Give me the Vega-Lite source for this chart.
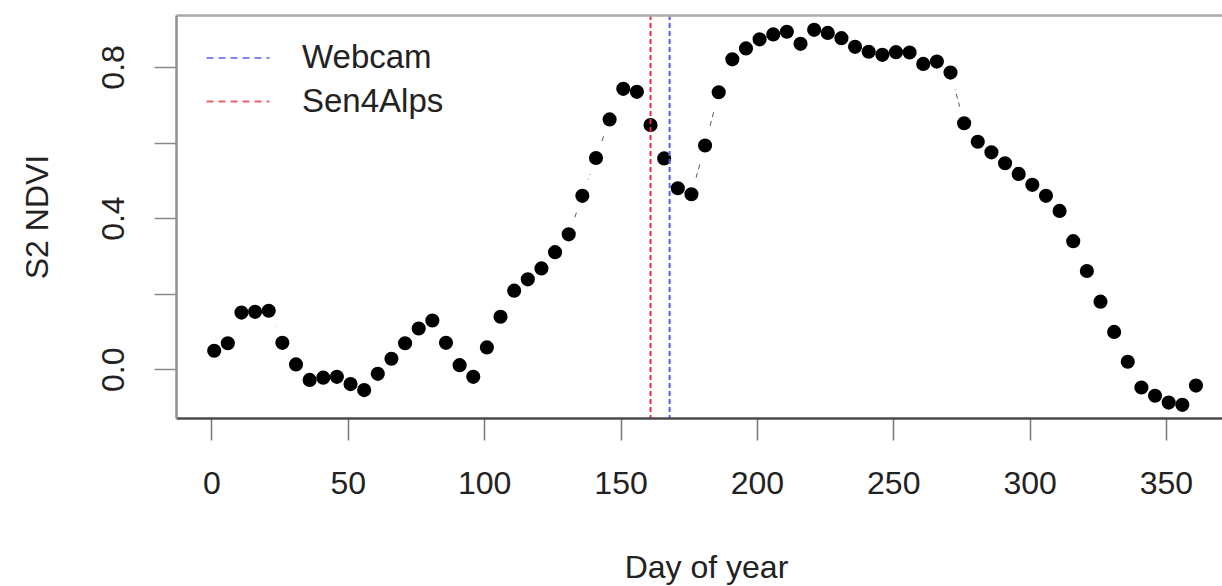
{
  "$schema": "https://vega.github.io/schema/vega-lite/v6.json",
  "width": 1046,
  "height": 403,
  "autosize": {"type": "none"},
  "padding": {"left": 176, "top": 15, "right": 0, "bottom": 168},
  "background": "white",
  "config": {
    "font": "Liberation Sans",
    "view": {"stroke": null},
    "axis": {"grid": false, "labelFont": "Liberation Sans", "titleFont": "Liberation Sans", "labelColor": "#222", "titleColor": "#222", "titleFontWeight": "normal"}
  },
  "datasets": {
    "ndvi": [
      {"day": 1, "ndvi": 0.049}, {"day": 6, "ndvi": 0.069}, {"day": 11, "ndvi": 0.150}, {"day": 16, "ndvi": 0.152},
      {"day": 21, "ndvi": 0.155}, {"day": 26, "ndvi": 0.070}, {"day": 31, "ndvi": 0.013}, {"day": 36, "ndvi": -0.028},
      {"day": 41, "ndvi": -0.022}, {"day": 46, "ndvi": -0.020}, {"day": 51, "ndvi": -0.039}, {"day": 56, "ndvi": -0.055},
      {"day": 61, "ndvi": -0.012}, {"day": 66, "ndvi": 0.028}, {"day": 71, "ndvi": 0.069}, {"day": 76, "ndvi": 0.108},
      {"day": 81, "ndvi": 0.129}, {"day": 86, "ndvi": 0.070}, {"day": 91, "ndvi": 0.011}, {"day": 96, "ndvi": -0.020},
      {"day": 101, "ndvi": 0.058}, {"day": 106, "ndvi": 0.139}, {"day": 111, "ndvi": 0.208}, {"day": 116, "ndvi": 0.238},
      {"day": 121, "ndvi": 0.267}, {"day": 126, "ndvi": 0.310}, {"day": 131, "ndvi": 0.357}, {"day": 136, "ndvi": 0.459},
      {"day": 141, "ndvi": 0.559}, {"day": 146, "ndvi": 0.661}, {"day": 151, "ndvi": 0.742}, {"day": 156, "ndvi": 0.734},
      {"day": 161, "ndvi": 0.646}, {"day": 166, "ndvi": 0.558}, {"day": 171, "ndvi": 0.479}, {"day": 176, "ndvi": 0.463},
      {"day": 181, "ndvi": 0.592}, {"day": 186, "ndvi": 0.733}, {"day": 191, "ndvi": 0.820}, {"day": 196, "ndvi": 0.849},
      {"day": 201, "ndvi": 0.873}, {"day": 206, "ndvi": 0.886}, {"day": 211, "ndvi": 0.893}, {"day": 216, "ndvi": 0.861},
      {"day": 221, "ndvi": 0.898}, {"day": 226, "ndvi": 0.890}, {"day": 231, "ndvi": 0.876}, {"day": 236, "ndvi": 0.853},
      {"day": 241, "ndvi": 0.840}, {"day": 246, "ndvi": 0.832}, {"day": 251, "ndvi": 0.839}, {"day": 256, "ndvi": 0.838},
      {"day": 261, "ndvi": 0.808}, {"day": 266, "ndvi": 0.814}, {"day": 271, "ndvi": 0.785}, {"day": 276, "ndvi": 0.651},
      {"day": 281, "ndvi": 0.602}, {"day": 286, "ndvi": 0.574}, {"day": 291, "ndvi": 0.545}, {"day": 296, "ndvi": 0.517},
      {"day": 301, "ndvi": 0.488}, {"day": 306, "ndvi": 0.459}, {"day": 311, "ndvi": 0.419}, {"day": 316, "ndvi": 0.339},
      {"day": 321, "ndvi": 0.260}, {"day": 326, "ndvi": 0.179}, {"day": 331, "ndvi": 0.099}, {"day": 336, "ndvi": 0.020},
      {"day": 341, "ndvi": -0.048}, {"day": 346, "ndvi": -0.070}, {"day": 351, "ndvi": -0.088}, {"day": 356, "ndvi": -0.094},
      {"day": 361, "ndvi": -0.043}
    ],
    "events": [
      {"day": 168, "source": "Webcam"},
      {"day": 161, "source": "Sen4Alps"}
    ]
  },
  "layer": [
    {
      "data": {"name": "ndvi"},
      "mark": {"type": "line", "strokeDash": [5, 4], "strokeWidth": 1, "color": "#555"},
      "encoding": {
        "x": {
          "field": "day", "type": "quantitative",
          "scale": {"domain": [-13.0, 370.55], "nice": false, "zero": false},
          "axis": {
            "orient": "bottom", "values": [0, 50, 100, 150, 200, 250, 300, 350], "zindex": 1,
            "title": "Day of year", "titleFontSize": 32, "titleX": 530, "titleY": 159,
            "titleAlign": "center", "titleBaseline": "alphabetic", "titleAnchor": null,
            "labelFontSize": 32, "labelBaseline": "alphabetic", "labelPadding": 53, "labelFlush": false, "labelOverlap": false,
            "tickSize": 22, "tickColor": "#777", "tickWidth": 1.5,
            "domainColor": "#4a4a4a", "domainWidth": 2.5
          }
        },
        "y": {
          "field": "ndvi", "type": "quantitative",
          "scale": {"domain": [-0.1288, 0.9373], "nice": false, "zero": false},
          "axis": {
            "orient": "left", "zindex": 1,
            "values": [0, 0.2, 0.4, 0.6, 0.8],
            "labelExpr": "round(datum.value*10)%4==0 ? format(datum.value,'.1f') : ''",
            "labelAngle": -90, "labelAlign": "center", "labelBaseline": "alphabetic",
            "labelFontSize": 32, "labelPadding": 31, "labelFlush": false, "labelOverlap": false,
            "tickSize": 22, "tickColor": "#888", "tickWidth": 1.5,
            "domainColor": "#909090", "domainWidth": 2.5,
            "title": "S2 NDVI", "titleFontSize": 32, "titleAngle": -90, "titleX": -129, "titleY": 201.5,
            "titleAlign": "center", "titleBaseline": "alphabetic", "titleAnchor": null
          }
        }
      }
    },
    {
      "data": {"name": "ndvi"},
      "mark": {"type": "circle", "size": 1200, "color": "white", "opacity": 1},
      "encoding": {
        "x": {"field": "day", "type": "quantitative", "axis": null},
        "y": {"field": "ndvi", "type": "quantitative"}
      }
    },
    {
      "data": {"name": "ndvi"},
      "mark": {"type": "circle", "size": 200, "color": "black", "opacity": 1},
      "encoding": {
        "x": {"field": "day", "type": "quantitative", "axis": null},
        "y": {"field": "ndvi", "type": "quantitative"}
      }
    },
    {
      "data": {"name": "events"},
      "mark": {"type": "rule", "strokeDash": [5, 3], "strokeWidth": 2},
      "encoding": {
        "x": {
          "field": "day", "type": "quantitative",
          "axis": {"orient": "top", "zindex": 1, "labels": false, "ticks": false, "title": null, "domain": true, "domainColor": "#a8a8a8", "domainWidth": 2.5, "grid": false}
        },
        "color": {
          "field": "source", "type": "nominal",
          "scale": {"domain": ["Webcam", "Sen4Alps"], "range": ["#5a5af0", "#e8303c"]},
          "legend": {
            "orient": "none", "legendX": 45, "legendY": 26, "title": null,
            "symbolType": "M-2,0H2", "symbolSize": 992, "symbolStrokeWidth": 2, "symbolDash": [7, 5],
            "symbolOpacity": 0.75, "symbolFillColor": "transparent",
            "labelFontSize": 33, "labelFont": "Liberation Sans", "labelColor": "#222", "labelOffset": 47,
            "padding": 0, "rowPadding": 9.5
          }
        }
      }
    }
  ]
}
